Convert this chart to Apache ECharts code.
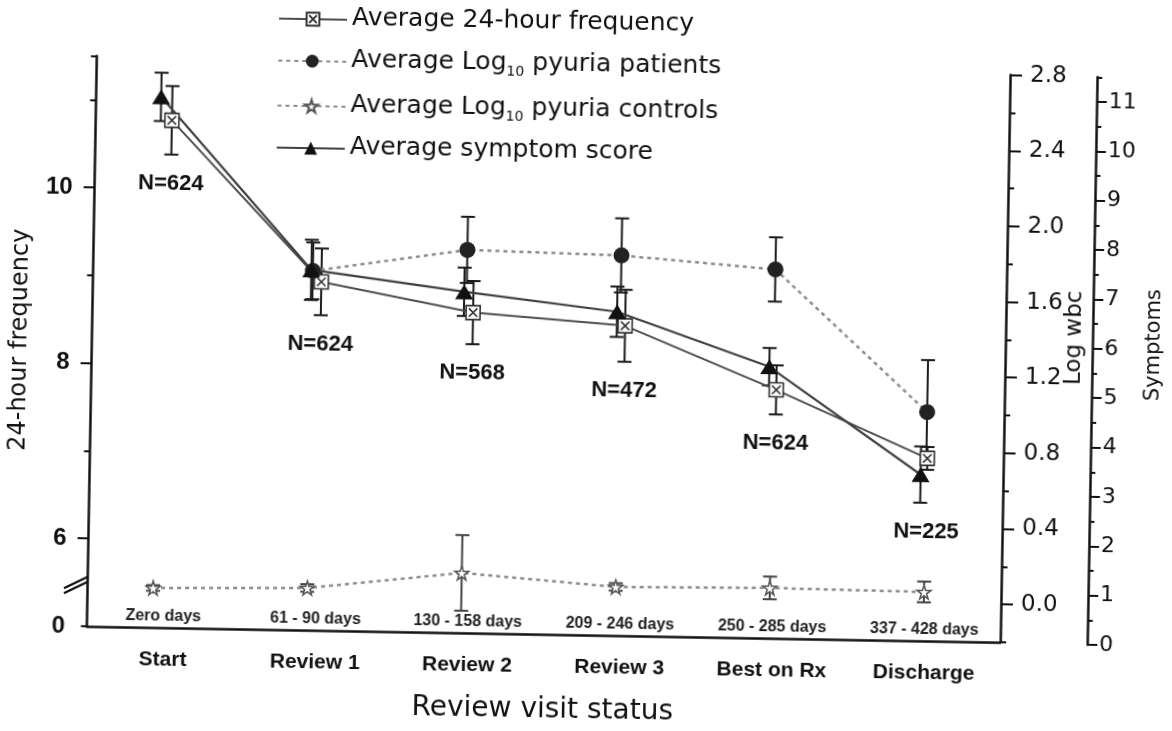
<!DOCTYPE html>
<html>
<head>
<meta charset="utf-8">
<script src="https://cdn.jsdelivr.net/npm/echarts@6/dist/echarts.min.js"></script>
<style>
  html, body { margin: 0; padding: 0; background: #fff; overflow: hidden; }
  #chart { width: 1172px; height: 731px; transform: rotate(1deg); transform-origin: 586px 365.5px; }
</style>
</head>
<body>
<div id="chart"></div>
<script>
// ---------- data ----------
const categories = ['Start', 'Review 1', 'Review 2', 'Review 3', 'Best on Rx', 'Discharge'];
const dayRanges = ['Zero days', '61 - 90 days', '130 - 158 days', '209 - 246 days', '250 - 285 days', '337 - 428 days'];
const sampleSizes = [624, 624, 568, 472, 624, 225];

const freqMean = [10.78, 8.97, 8.65, 8.53, 7.83, 7.08];
const freqErr  = [0.39, 0.38, 0.36, 0.41, 0.28, 0.13];

const patientsMean = [null, 1.70, 1.825, 1.81, 1.75, 1.01];
const patientsErr  = [null, 0.15, 0.175, 0.196, 0.17, 0.275];

const controlsMean = [0.009, 0.023, 0.117, 0.057, 0.066, 0.059];
const controlsErr  = [0.015, 0.02, 0.2, 0.02, 0.06, 0.055];

const symptomMean = [10.77, 7.32, 6.93, 6.58, 5.52, 3.39];
const symptomErr  = [0.49, 0.61, 0.49, 0.51, 0.38, 0.57];

const freqTickLabels = [6, 8, 10];
const freqBreakLabel = '0';
const logTickLabels = [0, 0.4, 0.8, 1.2, 1.6, 2.0, 2.4, 2.8];
const symptomTickLabels = [0, 1, 2, 3, 4, 5, 6, 7, 8, 9, 10, 11];

const seriesNames = ['Average 24-hour frequency', 'Average Log10 pyuria patients', 'Average Log10 pyuria controls', 'Average symptom score'];

// ---------- styling ----------
const REG = '"DejaVu Sans", sans-serif';
const ARIAL = '"Liberation Sans", Arial, sans-serif';
const INK = '#111';
const GRID_L = 80, GRID_R = 1172 - 1005, GRID_B = 731 - 635;

const squareX = 'path://M0,0 L20,0 L20,20 L0,20 Z M4,4 L16,16 M16,4 L4,16';
const starPath = 'path://M50,0 L61,35 L98,35 L68,57 L79,91 L50,70 L21,91 L32,57 L2,35 L39,35 Z';

function errData(mean, err) {
  const out = [];
  mean.forEach((m, i) => { if (m != null) out.push([i, m, err[i]]); });
  return out;
}
function errRender(color, width) {
  return function (params, api) {
    const i = api.value(0), m = api.value(1), e = api.value(2);
    const hi = api.coord([i, m + e]);
    const lo = api.coord([i, m - e]);
    const w = 7;
    const st = { stroke: color, lineWidth: width };
    return {
      type: 'group',
      children: [
        { type: 'line', shape: { x1: hi[0], y1: hi[1], x2: lo[0], y2: lo[1] }, style: st },
        { type: 'line', shape: { x1: hi[0] - w, y1: hi[1], x2: hi[0] + w, y2: hi[1] }, style: st },
        { type: 'line', shape: { x1: lo[0] - w, y1: lo[1], x2: lo[0] + w, y2: lo[1] }, style: st }
      ]
    };
  };
}

const chart = echarts.init(document.getElementById('chart'), null, { renderer: 'canvas' });

const option = {
  animation: false,
  backgroundColor: '#fff',
  legend: {
    orient: 'vertical',
    left: 267,
    top: 5,
    itemWidth: 68,
    itemHeight: 16,
    itemGap: 14,
    data: seriesNames,
    formatter: function (name) {
      if (name.indexOf('Log10') >= 0) {
        const parts = name.split('10');
        return '{t|' + parts[0] + '}{s|10}{t|' + parts[1] + '}';
      }
      return '{t|' + name + '}';
    },
    textStyle: {
      color: INK,
      rich: {
        t: { fontFamily: REG, fontSize: 25, lineHeight: 28, color: INK, verticalAlign: 'top' },
        s: { fontFamily: REG, fontSize: 14, lineHeight: 14, color: INK, verticalAlign: 'bottom', padding: [17, 0, 0, 0] }
      }
    }
  },
  grid: [
    { left: GRID_L, right: GRID_R, top: 64.4, bottom: GRID_B },
    { left: GRID_L, right: GRID_R, top: 67.6, bottom: GRID_B },
    { left: GRID_L, right: GRID_R, top: 68.3, bottom: 731 - 636.1 }
  ],
  xAxis: [
    {
      gridIndex: 0, type: 'category', data: categories, boundaryGap: true,
      axisLine: { lineStyle: { color: INK, width: 2.5 } },
      axisTick: { alignWithLabel: true, length: 10, lineStyle: { color: INK, width: 2 } },
      axisLabel: { interval: 0, margin: 22, fontFamily: ARIAL, fontWeight: 'bold', fontSize: 21, color: INK },
      splitLine: { show: false },
      name: 'Review visit status', nameLocation: 'middle', nameGap: 62,
      nameTextStyle: { fontFamily: REG, fontSize: 28, color: INK }
    },
    {
      gridIndex: 0, type: 'category', data: dayRanges, boundaryGap: true, position: 'bottom',
      axisLine: { show: false }, axisTick: { show: false }, splitLine: { show: false },
      axisLabel: { inside: true, interval: 0, margin: 3, fontFamily: ARIAL, fontWeight: 'bold', fontSize: 16, color: '#222' }
    },
    { gridIndex: 1, type: 'category', data: categories, boundaryGap: true, show: false },
    { gridIndex: 2, type: 'category', data: categories, boundaryGap: true, show: false }
  ],
  yAxis: [
    {
      gridIndex: 0, type: 'value', position: 'left', min: 5, max: 11.5, interval: 1,
      axisLine: { show: true, lineStyle: { color: INK, width: 2.5 } },
      axisTick: { show: true, length: 11, customValues: freqTickLabels, lineStyle: { color: INK, width: 2 } },
      axisLabel: {
        customValues: [5].concat(freqTickLabels), margin: 22,
        fontFamily: ARIAL, fontWeight: 'bold', fontSize: 24, color: INK,
        formatter: function (v) { return v === 5 ? freqBreakLabel : (freqTickLabels.indexOf(v) >= 0 ? String(v) : ''); }
      },
      splitLine: { show: false },
      name: '24-hour frequency', nameLocation: 'middle', nameGap: 46, nameRotate: 90,
      nameTextStyle: { fontFamily: REG, fontSize: 24, color: INK }
    },
    {
      gridIndex: 0, type: 'value', position: 'left', min: 5, max: 11.5, interval: 1,
      axisLine: { show: false }, axisLabel: { show: false }, splitLine: { show: false },
      axisTick: { show: true, length: 6, lineStyle: { color: INK, width: 2 } }
    },
    {
      gridIndex: 1, type: 'value', position: 'right', min: -0.2, max: 2.8, interval: 0.2,
      axisLine: { show: true, lineStyle: { color: INK, width: 2.5 } },
      axisTick: { show: true, length: 12, customValues: logTickLabels, lineStyle: { color: INK, width: 2 } },
      axisLabel: {
        customValues: logTickLabels, margin: 20, fontFamily: REG, fontSize: 23, color: INK,
        formatter: function (v) { const k = Math.round(v * 10); return (k >= 0 && k % 4 === 0) ? (k / 10).toFixed(1) : ''; }
      },
      splitLine: { show: false },
      name: 'Log wbc', nameLocation: 'middle', nameGap: 69, nameRotate: 90, nameMoveOverlap: false,
      nameTextStyle: { fontFamily: REG, fontSize: 23, color: INK, align: 'center', verticalAlign: 'middle', padding: [0, 0, 0, 44] }
    },
    {
      gridIndex: 1, type: 'value', position: 'right', min: -0.2, max: 2.8, interval: 0.2,
      axisLine: { show: false }, axisLabel: { show: false }, splitLine: { show: false },
      axisTick: { show: true, length: 6, lineStyle: { color: INK, width: 2 } }
    },
    {
      gridIndex: 2, type: 'value', position: 'right', offset: 93, min: 0, max: 11.5, interval: 1,
      axisLine: { show: true, lineStyle: { color: INK, width: 2.5 } },
      axisTick: { show: true, length: 10, customValues: symptomTickLabels, lineStyle: { color: INK, width: 2 } },
      axisLabel: { customValues: symptomTickLabels, margin: 12, fontFamily: REG, fontSize: 22, color: INK },
      splitLine: { show: false },
      name: 'Symptoms', nameLocation: 'middle', nameGap: 44, nameRotate: 90,
      nameTextStyle: { fontFamily: REG, fontSize: 21, color: INK, align: 'center', verticalAlign: 'top', padding: [0, 0, 0, 34] }
    },
    {
      gridIndex: 2, type: 'value', position: 'right', offset: 93, min: 0, max: 11.5, interval: 0.5,
      axisLine: { show: false }, axisLabel: { show: false }, splitLine: { show: false },
      axisTick: { show: true, length: 5, lineStyle: { color: INK, width: 2 } }
    }
  ],
  series: [
    {
      name: seriesNames[0], type: 'line', xAxisIndex: 0, yAxisIndex: 0, data: freqMean,
      symbol: squareX, symbolSize: 14, z: 5,
      lineStyle: { color: '#4d4d4d', width: 2 },
      itemStyle: { color: '#fff', borderColor: '#333', borderWidth: 1.6 }
    },
    {
      name: seriesNames[1], type: 'line', xAxisIndex: 2, yAxisIndex: 2, data: patientsMean,
      symbol: 'circle', symbolSize: 16, z: 5, connectNulls: false,
      lineStyle: { color: '#8c8c8c', width: 2.5, type: [4, 4] },
      itemStyle: { color: '#222' }
    },
    {
      name: seriesNames[2], type: 'line', xAxisIndex: 2, yAxisIndex: 2, data: controlsMean,
      symbol: starPath, symbolSize: 14, z: 5,
      lineStyle: { color: '#8c8c8c', width: 2.5, type: [4, 4] },
      itemStyle: { color: '#fff', borderColor: '#555', borderWidth: 1.5 }
    },
    {
      name: seriesNames[3], type: 'line', xAxisIndex: 3, yAxisIndex: 4, data: symptomMean,
      symbol: 'triangle', symbolSize: [18, 15], z: 5,
      lineStyle: { color: '#404040', width: 2.2 },
      itemStyle: { color: '#111' }
    },
    { type: 'custom', xAxisIndex: 0, yAxisIndex: 0, data: errData(freqMean, freqErr), renderItem: errRender('#1a1a1a', 2), z: 3, silent: true },
    { type: 'custom', xAxisIndex: 2, yAxisIndex: 2, data: errData(patientsMean, patientsErr), renderItem: errRender('#1a1a1a', 2), z: 3, silent: true },
    { type: 'custom', xAxisIndex: 2, yAxisIndex: 2, data: errData(controlsMean, controlsErr), renderItem: errRender('#444', 2), z: 3, silent: true },
    { type: 'custom', xAxisIndex: 3, yAxisIndex: 4, data: errData(symptomMean, symptomErr), renderItem: errRender('#1a1a1a', 2), z: 3, silent: true }
  ]
};

chart.setOption(option);

// N labels placed under the lowest whisker of each visit, and the axis-break mark
const graphics = [];
categories.forEach(function (c, i) {
  const lows = [];
  const pf = chart.convertToPixel({ xAxisIndex: 0, yAxisIndex: 0 }, [i, freqMean[i] - freqErr[i]]);
  lows.push(pf[1]);
  lows.push(chart.convertToPixel({ xAxisIndex: 3, yAxisIndex: 4 }, [i, symptomMean[i] - symptomErr[i]])[1]);
  if (patientsMean[i] != null) {
    lows.push(chart.convertToPixel({ xAxisIndex: 2, yAxisIndex: 2 }, [i, patientsMean[i] - patientsErr[i]])[1]);
  }
  const y = Math.max.apply(null, lows) + 29;
  graphics.push({
    type: 'text', x: pf[0], y: y, z: 10,
    style: {
      text: 'N=' + sampleSizes[i], fill: INK,
      font: 'bold 22px "Liberation Sans", Arial, sans-serif',
      textAlign: 'center', textVerticalAlign: 'middle', align: 'center', verticalAlign: 'middle'
    }
  });
});
const bp = chart.convertToPixel({ xAxisIndex: 0, yAxisIndex: 0 }, [0, 5.47]);
const ax = GRID_L;
[-2.5, 2.5].forEach(function (d) {
  graphics.push({
    type: 'line', z: 10,
    shape: { x1: ax - 12, y1: bp[1] + 6 + d, x2: ax + 12, y2: bp[1] - 6 + d },
    style: { stroke: INK, lineWidth: 2.2 }
  });
});
chart.setOption({ graphic: graphics });
</script>
</body>
</html>
